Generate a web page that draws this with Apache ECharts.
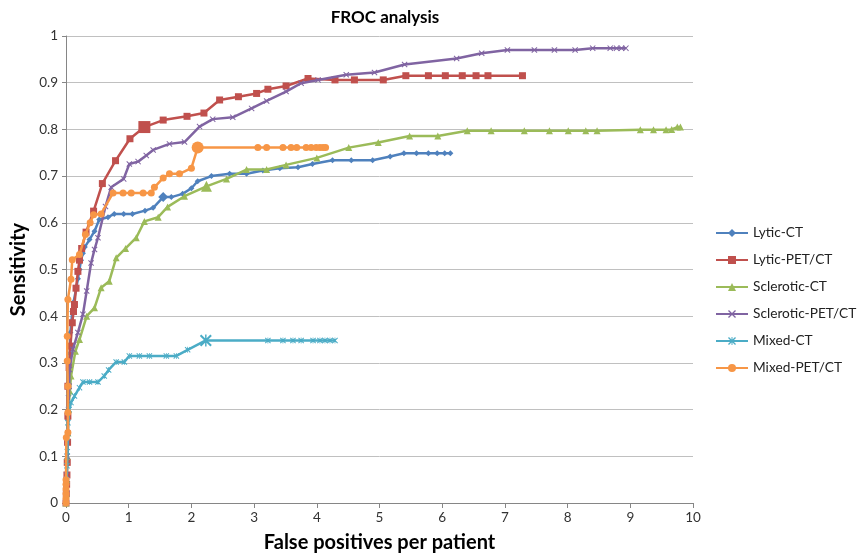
<!DOCTYPE html>
<html>
<head>
<meta charset="utf-8">
<script src="https://cdn.jsdelivr.net/npm/echarts@6/dist/echarts.min.js"></script>
<style>html,body{margin:0;padding:0;background:#fff}#c{width:857px;height:558px}</style>
</head>
<body>
<div id="c"></div>
<script>
const seriesNames = ['Lytic-CT','Lytic-PET/CT','Sclerotic-CT','Sclerotic-PET/CT','Mixed-CT','Mixed-PET/CT'];
const xTicks = [0,1,2,3,4,5,6,7,8,9,10];
const yTicks = [0,0.1,0.2,0.3,0.4,0.5,0.6,0.7,0.8,0.9,1];

const lyticCT = [[0,0],[0.005,0.02],[0.01,0.05],[0.015,0.09],[0.02,0.13],[0.03,0.18],[0.04,0.23],[0.05,0.28],[0.06,0.32],[0.07,0.365],[0.1,0.41],[0.12,0.43],[0.16,0.457],[0.19,0.48],[0.215,0.5],[0.24,0.52],[0.27,0.535],[0.3,0.548],[0.375,0.564],[0.455,0.582],[0.53,0.607],[0.67,0.612],[0.77,0.619],[0.92,0.619],[1.06,0.619],[1.26,0.626],[1.39,0.632],[1.55,0.655],[1.68,0.655],[1.86,0.662],[2.0,0.674],[2.1,0.689],[2.32,0.7],[2.61,0.705],[2.88,0.705],[3.14,0.712],[3.41,0.717],[3.7,0.719],[3.93,0.726],[4.25,0.734],[4.55,0.734],[4.89,0.734],[5.17,0.742],[5.39,0.749],[5.59,0.749],[5.78,0.749],[5.92,0.749],[6.04,0.749],[6.13,0.749]];
const lyticPET = [[0,0],[0.005,0.02],[0.01,0.04],[0.015,0.06],[0.02,0.087],[0.025,0.13],[0.03,0.186],[0.03,0.25],[0.05,0.29],[0.07,0.336],[0.1,0.386],[0.12,0.41],[0.135,0.425],[0.16,0.46],[0.19,0.496],[0.215,0.52],[0.25,0.545],[0.32,0.58],[0.44,0.625],[0.58,0.684],[0.79,0.733],[1.02,0.78],[1.25,0.805],[1.55,0.82],[1.93,0.828],[2.2,0.835],[2.45,0.863],[2.75,0.87],[3.04,0.877],[3.22,0.886],[3.51,0.893],[3.86,0.909],[4.29,0.906],[4.6,0.906],[5.06,0.906],[5.42,0.915],[5.78,0.915],[6.05,0.915],[6.32,0.915],[6.54,0.915],[6.73,0.915],[7.28,0.915]];
const scleroticCT = [[0,0],[0.005,0.02],[0.01,0.05],[0.02,0.1],[0.03,0.15],[0.04,0.2],[0.06,0.24],[0.08,0.272],[0.15,0.325],[0.215,0.35],[0.33,0.4],[0.455,0.418],[0.56,0.461],[0.69,0.475],[0.8,0.525],[0.95,0.545],[1.12,0.568],[1.25,0.603],[1.47,0.612],[1.62,0.634],[1.89,0.657],[2.24,0.678],[2.56,0.694],[2.88,0.714],[3.2,0.714],[3.51,0.724],[4.0,0.739],[4.51,0.761],[4.98,0.772],[5.48,0.786],[5.93,0.786],[6.4,0.797],[6.78,0.797],[7.31,0.797],[7.71,0.797],[8.01,0.797],[8.29,0.797],[8.47,0.797],[9.16,0.799],[9.37,0.799],[9.57,0.799],[9.66,0.8],[9.75,0.805],[9.8,0.805]];
const scleroticPET = [[0,0],[0.005,0.03],[0.01,0.06],[0.02,0.1],[0.03,0.15],[0.04,0.2],[0.05,0.25],[0.056,0.286],[0.11,0.329],[0.19,0.365],[0.27,0.404],[0.33,0.454],[0.4,0.514],[0.455,0.543],[0.51,0.568],[0.63,0.635],[0.72,0.676],[0.92,0.694],[1.01,0.726],[1.15,0.731],[1.28,0.744],[1.39,0.756],[1.65,0.769],[1.89,0.773],[2.13,0.806],[2.34,0.822],[2.66,0.826],[2.96,0.845],[3.2,0.861],[3.51,0.881],[3.75,0.899],[4.02,0.906],[4.47,0.917],[4.92,0.922],[5.4,0.939],[6.23,0.952],[6.63,0.963],[7.04,0.97],[7.47,0.97],[7.79,0.97],[8.12,0.97],[8.4,0.974],[8.68,0.974],[8.78,0.974],[8.86,0.974],[8.93,0.974]];
const mixedCT = [[0,0],[0.005,0.02],[0.01,0.05],[0.015,0.08],[0.02,0.11],[0.025,0.14],[0.03,0.172],[0.05,0.2],[0.08,0.215],[0.135,0.229],[0.215,0.247],[0.27,0.259],[0.375,0.259],[0.51,0.259],[0.61,0.272],[0.68,0.285],[0.8,0.302],[0.93,0.302],[1.01,0.315],[1.17,0.315],[1.33,0.315],[1.6,0.315],[1.76,0.315],[1.94,0.328],[2.23,0.348],[3.22,0.348],[3.46,0.348],[3.62,0.348],[3.75,0.348],[3.94,0.348],[4.05,0.348],[4.13,0.348],[4.21,0.348],[4.29,0.348]];
const mixedPET = [[0,0],[0,0.01],[0,0.02],[0,0.03],[0,0.04],[0,0.05],[0.005,0.14],[0.03,0.151],[0.03,0.194],[0.03,0.25],[0.02,0.304],[0.02,0.357],[0.03,0.436],[0.08,0.479],[0.1,0.521],[0.215,0.532],[0.31,0.575],[0.385,0.6],[0.44,0.617],[0.56,0.619],[0.75,0.664],[0.91,0.664],[1.04,0.664],[1.23,0.664],[1.36,0.664],[1.41,0.676],[1.55,0.696],[1.65,0.705],[1.81,0.705],[2.0,0.717],[2.1,0.761],[3.06,0.761],[3.2,0.761],[3.46,0.761],[3.59,0.761],[3.68,0.761],[3.83,0.761],[3.91,0.761],[3.99,0.761],[4.05,0.761],[4.1,0.761],[4.14,0.761]];

const colors = ['#4F81BD','#C0504D','#9BBB59','#8064A2','#4BACC6','#F79646'];
const xSym = 'path://M0,1.2L1.2,0L5,3.8L8.8,0L10,1.2L6.2,5L10,8.8L8.8,10L5,6.2L1.2,10L0,8.8L3.8,5Z';
const starSym = 'path://M0,1.2L1.2,0L5,3.8L8.8,0L10,1.2L6.2,5L10,8.8L8.8,10L5,6.2L1.2,10L0,8.8L3.8,5Z M4.4,0L5.6,0L5.6,10L4.4,10Z';

const cfg = [
  {data: lyticCT, symbol: 'diamond', size: 6, big: 1.55, bigSize: 10},
  {data: lyticPET, symbol: 'rect', size: 7, big: 1.25, bigSize: 12},
  {data: scleroticCT, symbol: 'triangle', size: 7, big: 2.24, bigSize: 11},
  {data: scleroticPET, symbol: xSym, size: 6, big: null, bigSize: 6},
  {data: mixedCT, symbol: starSym, size: 6, big: 2.23, bigSize: 12},
  {data: mixedPET, symbol: 'circle', size: 7, big: 2.1, bigSize: 12}
];

const chart = echarts.init(document.getElementById('c'), null, {renderer: 'canvas'});
const font = 'Lato, "Open Sans", sans-serif';
chart.setOption({
  animation: false,
  textStyle: {fontFamily: font},
  color: colors,
  title: {
    text: 'FROC analysis', left: 380, top: 4, textAlign: 'center',
    textStyle: {fontFamily: font, fontSize: 17, fontWeight: 'bold', color: '#000'}
  },
  legend: {
    orient: 'vertical', left: 710, top: 221,
    itemWidth: 32, itemHeight: 10, itemGap: 13,
    textStyle: {fontFamily: font, fontSize: 13.7, color: '#222'},
    data: seriesNames
  },
  grid: {left: 66, right: 164, top: 36, bottom: 54},
  xAxis: {
    type: 'value', min: xTicks[0], max: xTicks[xTicks.length-1], interval: 1,
    name: 'False positives per patient', nameLocation: 'middle', nameGap: 30,
    nameTextStyle: {fontFamily: font, fontSize: 20, fontWeight: 'bold', color: '#000'},
    axisLine: {show: true, lineStyle: {color: '#868686', width: 1}},
    axisTick: {show: true, length: 5, lineStyle: {color: '#868686'}},
    axisLabel: {fontFamily: font, fontSize: 13.5, color: '#333', margin: 8},
    splitLine: {show: false}
  },
  yAxis: {
    type: 'value', min: yTicks[0], max: yTicks[yTicks.length-1], interval: 0.1,
    name: 'Sensitivity', nameLocation: 'middle', nameGap: 32, nameRotate: 90,
    nameTextStyle: {fontFamily: font, fontSize: 20, fontWeight: 'bold', color: '#000'},
    axisLine: {show: true, lineStyle: {color: '#868686', width: 1}},
    axisTick: {show: true, length: 4, lineStyle: {color: '#868686'}},
    axisLabel: {fontFamily: font, fontSize: 13.5, color: '#333', margin: 8},
    splitLine: {show: true, lineStyle: {color: '#C0C0C0', width: 1}}
  },
  series: cfg.map((c, i) => ({
    name: seriesNames[i],
    type: 'line',
    data: c.data,
    clip: false,
    symbol: c.symbol,
    symbolSize: (v) => (c.big !== null && v[0] === c.big) ? c.bigSize : c.size,
    showAllSymbol: true,
    lineStyle: {width: 2.5, color: colors[i]},
    itemStyle: {color: colors[i], borderColor: colors[i], borderWidth: 0},
    emphasis: {disabled: true},
    z: 2 + i
  }))
});
</script>
</body>
</html>
